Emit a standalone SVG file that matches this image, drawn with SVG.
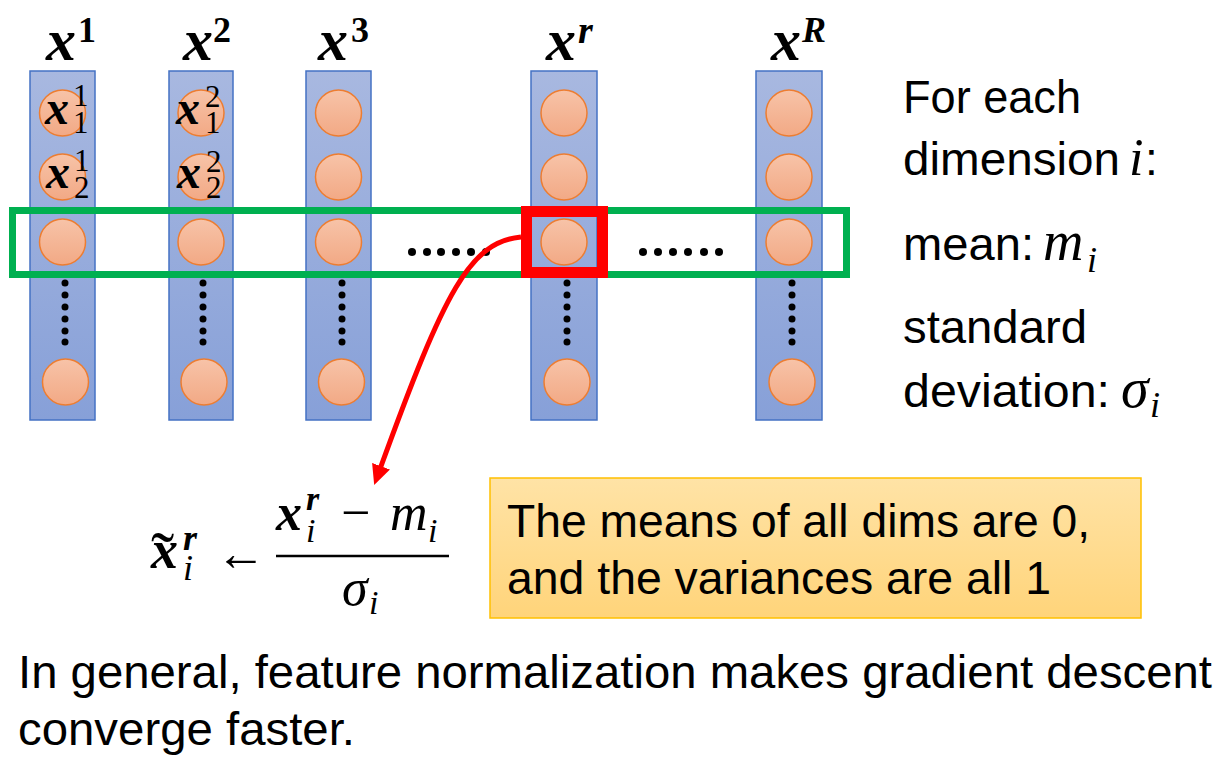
<svg xmlns="http://www.w3.org/2000/svg" width="1225" height="770" viewBox="0 0 1225 770">
<defs>
<linearGradient id="gCol" x1="0" y1="0" x2="0" y2="1"><stop offset="0" stop-color="#A8B8E0"/><stop offset="1" stop-color="#87A0D8"/></linearGradient>
<linearGradient id="gNode" x1="0" y1="0" x2="0" y2="1"><stop offset="0" stop-color="#F7C3A8"/><stop offset="1" stop-color="#F2A985"/></linearGradient>
<linearGradient id="gBox" x1="0" y1="0" x2="0" y2="1"><stop offset="0" stop-color="#FFE3A6"/><stop offset="1" stop-color="#FFD47A"/></linearGradient>
<marker id="ah" viewBox="0 0 20 20" markerUnits="userSpaceOnUse" markerWidth="20" markerHeight="20" refX="3" refY="10" orient="auto"><path d="M0,0.5 L20,10 L0,19.5 z" fill="#FF0000"/></marker>
<style>
.col{fill:url(#gCol);stroke:#4472C4;stroke-width:1.5}
.nd{fill:url(#gNode);stroke:#ED7D31;stroke-width:1.5}
.dt{fill:#000}
.sans{font-family:"Liberation Sans",Arial,sans-serif;font-size:46px;fill:#000}
.bx{font-family:"Liberation Serif","Times New Roman",serif;font-weight:bold;font-style:italic;fill:#000}
.mi{font-family:"Liberation Serif","Times New Roman",serif;font-style:italic;fill:#000}
.rm{font-family:"Liberation Serif","Times New Roman",serif;fill:#000}
.rb{font-family:"Liberation Serif","Times New Roman",serif;font-weight:bold;fill:#000}
</style>
</defs>
<rect width="1225" height="770" fill="#FFFFFF"/>

<g id="col1">
<rect class="col" x="30" y="71" width="65" height="349"/>
<circle class="nd" cx="62.5" cy="113" r="23"/><circle class="nd" cx="62.5" cy="177" r="23"/><circle class="nd" cx="62.5" cy="242" r="23"/><circle class="nd" cx="65.5" cy="382" r="23"/>
<circle class="dt" cx="65" cy="283" r="3.5"/><circle class="dt" cx="65" cy="295" r="3.5"/><circle class="dt" cx="65" cy="307" r="3.5"/><circle class="dt" cx="65" cy="319" r="3.5"/><circle class="dt" cx="65" cy="331" r="3.5"/><circle class="dt" cx="65" cy="342" r="3.5"/>
<text class="bx" x="45" y="124" font-size="48">x</text><text class="rm" x="73" y="106" font-size="31">1</text><text class="rm" x="73" y="133" font-size="31">1</text>
<text class="bx" x="46" y="188" font-size="48">x</text><text class="rm" x="74" y="171" font-size="31">1</text><text class="rm" x="74" y="198" font-size="31">2</text>
</g>

<g id="col2">
<rect class="col" x="169" y="71" width="64" height="349"/>
<circle class="nd" cx="201" cy="113" r="23"/><circle class="nd" cx="201" cy="177" r="23"/><circle class="nd" cx="201" cy="242" r="23"/><circle class="nd" cx="204" cy="382" r="23"/>
<circle class="dt" cx="203" cy="283" r="3.5"/><circle class="dt" cx="203" cy="295" r="3.5"/><circle class="dt" cx="203" cy="307" r="3.5"/><circle class="dt" cx="203" cy="319" r="3.5"/><circle class="dt" cx="203" cy="331" r="3.5"/><circle class="dt" cx="203" cy="342" r="3.5"/>
<text class="bx" x="176" y="124" font-size="48">x</text><text class="rm" x="205" y="107" font-size="31">2</text><text class="rm" x="205" y="133" font-size="31">1</text>
<text class="bx" x="177" y="188" font-size="48">x</text><text class="rm" x="206" y="172" font-size="31">2</text><text class="rm" x="206" y="198" font-size="31">2</text>
</g>

<g id="col3">
<rect class="col" x="306" y="71" width="65" height="349"/>
<circle class="nd" cx="338.5" cy="113" r="23"/><circle class="nd" cx="338.5" cy="177" r="23"/><circle class="nd" cx="338.5" cy="242" r="23"/><circle class="nd" cx="341.5" cy="382" r="23"/>
<circle class="dt" cx="342" cy="283" r="3.5"/><circle class="dt" cx="342" cy="295" r="3.5"/><circle class="dt" cx="342" cy="307" r="3.5"/><circle class="dt" cx="342" cy="319" r="3.5"/><circle class="dt" cx="342" cy="331" r="3.5"/><circle class="dt" cx="342" cy="342" r="3.5"/>
</g>

<g id="colr">
<rect class="col" x="531" y="71" width="66" height="349"/>
<circle class="nd" cx="564" cy="113" r="23"/><circle class="nd" cx="564" cy="177" r="23"/><circle class="nd" cx="564" cy="242" r="23"/><circle class="nd" cx="567" cy="382" r="23"/>
<circle class="dt" cx="567" cy="283" r="3.5"/><circle class="dt" cx="567" cy="295" r="3.5"/><circle class="dt" cx="567" cy="307" r="3.5"/><circle class="dt" cx="567" cy="319" r="3.5"/><circle class="dt" cx="567" cy="331" r="3.5"/><circle class="dt" cx="567" cy="342" r="3.5"/>
</g>

<g id="colR">
<rect class="col" x="756" y="71" width="66" height="349"/>
<circle class="nd" cx="789" cy="113" r="23"/><circle class="nd" cx="789" cy="177" r="23"/><circle class="nd" cx="789" cy="242" r="23"/><circle class="nd" cx="792" cy="382" r="23"/>
<circle class="dt" cx="792" cy="283" r="3.5"/><circle class="dt" cx="792" cy="295" r="3.5"/><circle class="dt" cx="792" cy="307" r="3.5"/><circle class="dt" cx="792" cy="319" r="3.5"/><circle class="dt" cx="792" cy="331" r="3.5"/><circle class="dt" cx="792" cy="342" r="3.5"/>
</g>

<g id="labels">
<text class="bx" x="46" y="60" font-size="60">x</text><text class="rb" x="78" y="42" font-size="36">1</text>
<text class="bx" x="183" y="60" font-size="60">x</text><text class="rb" x="213" y="42" font-size="36">2</text>
<text class="bx" x="318" y="60" font-size="60">x</text><text class="rb" x="351" y="42" font-size="36">3</text>
<text class="bx" x="546" y="60" font-size="60">x</text><text class="bx" x="578" y="43" font-size="38">r</text>
<text class="bx" x="771" y="60" font-size="60">x</text><text class="bx" x="802" y="42" font-size="36">R</text>
</g>

<g id="row-highlight">
<rect x="12.5" y="210.5" width="834" height="64" fill="none" stroke="#00B050" stroke-width="7"/>
<g class="dt">
<circle cx="412" cy="252" r="4"/><circle cx="427" cy="252" r="4"/><circle cx="441" cy="252" r="4"/><circle cx="456" cy="252" r="4"/><circle cx="471" cy="252" r="4"/><circle cx="486" cy="252" r="4"/>
<circle cx="643" cy="252" r="4"/><circle cx="658" cy="252" r="4"/><circle cx="673" cy="252" r="4"/><circle cx="688" cy="252" r="4"/><circle cx="704" cy="252" r="4"/><circle cx="719" cy="252" r="4"/>
</g>
</g>

<g id="selected">
<rect x="526.5" y="211.5" width="76" height="61" fill="none" stroke="#FF0000" stroke-width="11"/>
</g>

<g id="connectors">
<path d="M521,237 C470,242 445,290 380,469" fill="none" stroke="#FF0000" stroke-width="5" marker-end="url(#ah)"/>
</g>

<g id="formula">
<text class="bx" x="151" y="568" font-size="54">x</text>
<text class="rm" x="151" y="580" font-size="70">˜</text>
<text class="bx" x="183" y="550" font-size="36">r</text>
<text class="mi" x="183" y="580" font-size="36">i</text>
<text class="rm" x="216" y="570" font-size="50">←</text>
<text class="bx" x="276" y="530" font-size="52">x</text>
<text class="bx" x="306" y="510" font-size="34">r</text>
<text class="mi" x="306" y="542" font-size="34">i</text>
<text class="rm" x="341" y="530" font-size="52">−</text>
<text class="mi" x="390" y="530" font-size="52">m</text>
<text class="mi" x="428" y="542" font-size="34">i</text>
<line x1="276" y1="556" x2="449" y2="556" stroke="#000" stroke-width="2.5"/>
<text class="mi" x="342" y="605" font-size="52">σ</text>
<text class="mi" x="369" y="614" font-size="34">i</text>
</g>

<g id="stats">
<text class="sans" x="903" y="113" textLength="178" lengthAdjust="spacingAndGlyphs">For each</text>
<text class="sans" x="903" y="175" textLength="217" lengthAdjust="spacingAndGlyphs">dimension</text>
<text class="mi" x="1129" y="175" font-size="52">i</text>
<text class="sans" x="1145" y="175">:</text>
<text class="sans" x="903" y="260" textLength="131" lengthAdjust="spacingAndGlyphs">mean:</text>
<text class="mi" x="1043" y="260" font-size="56">m</text>
<text class="mi" x="1087" y="272" font-size="36">i</text>
<text class="sans" x="903" y="343" textLength="184" lengthAdjust="spacingAndGlyphs">standard</text>
<text class="sans" x="903" y="407" textLength="207" lengthAdjust="spacingAndGlyphs">deviation:</text>
<text class="mi" x="1121" y="407" font-size="56">σ</text>
<text class="mi" x="1150" y="417" font-size="36">i</text>
</g>

<g id="note">
<rect x="490" y="478" width="651" height="140" fill="url(#gBox)" stroke="#FFC000" stroke-width="1.5"/>
<text class="sans" x="507" y="537" textLength="583" lengthAdjust="spacingAndGlyphs">The means of all dims are 0,</text>
<text class="sans" x="507" y="594" textLength="544" lengthAdjust="spacingAndGlyphs">and the variances are all 1</text>
</g>

<g id="footer">
<text class="sans" x="18" y="688" textLength="1194" lengthAdjust="spacingAndGlyphs">In general, feature normalization makes gradient descent</text>
<text class="sans" x="18" y="745" textLength="337" lengthAdjust="spacingAndGlyphs">converge faster.</text>
</g>
</svg>
